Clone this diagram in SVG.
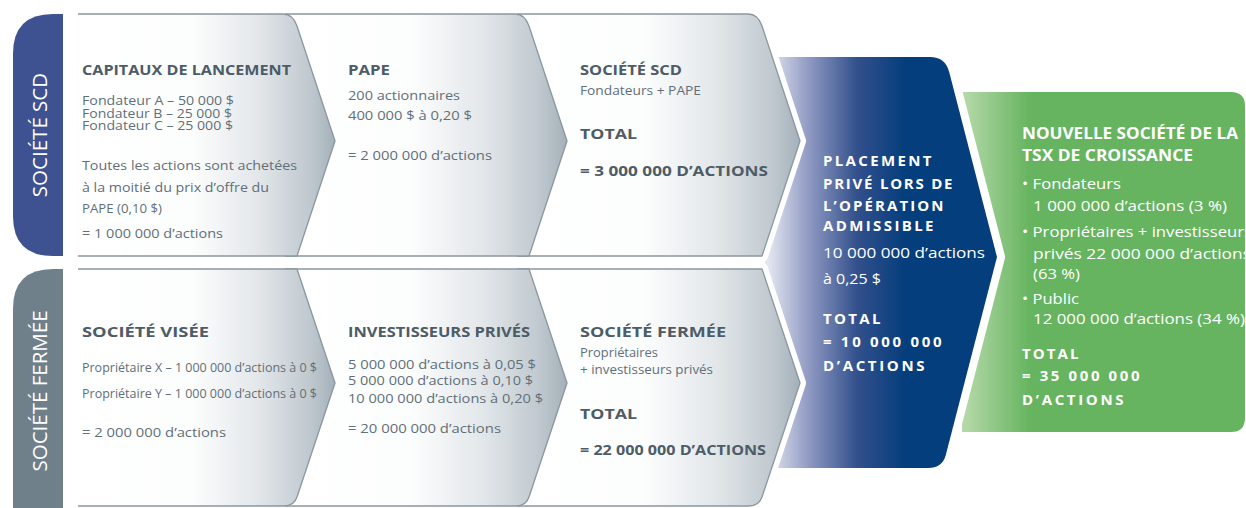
<svg xmlns="http://www.w3.org/2000/svg" width="1246" height="508" viewBox="0 0 1246 508">
<defs>
<linearGradient id="gGray" x1="0" y1="0" x2="1" y2="0">
<stop offset="0" stop-color="#ffffff"/>
<stop offset="0.45" stop-color="#fcfdfd"/>
<stop offset="0.7" stop-color="#e3e7ea"/>
<stop offset="0.9" stop-color="#c0c9cf"/>
<stop offset="1" stop-color="#a4b0b9"/>
</linearGradient>
<linearGradient id="gBlue" gradientUnits="userSpaceOnUse" x1="768" y1="0" x2="905" y2="0">
<stop offset="0" stop-color="#e4e7f1"/>
<stop offset="0.3" stop-color="#8f99c2"/>
<stop offset="0.65" stop-color="#32508c"/>
<stop offset="1" stop-color="#053e7c"/>
</linearGradient>
<linearGradient id="gGreen" gradientUnits="userSpaceOnUse" x1="960" y1="0" x2="1030" y2="0">
<stop offset="0" stop-color="#b9dbad"/>
<stop offset="1" stop-color="#66b45f"/>
</linearGradient>
<style>
.fill{fill:url(#gGray);stroke:none}
.edge{fill:none;stroke:#8a97a0;stroke-width:1.3;stroke-linejoin:round}
.halo{fill:none;stroke:#ffffff;stroke-width:12;stroke-linejoin:round}
.h{font-family:"Open Sans","Liberation Sans",sans-serif;font-weight:700;font-size:15px;fill:#4d5c67}
.b{font-family:"Open Sans","Liberation Sans",sans-serif;font-size:13.5px;fill:#616f79}
.bs{font-family:"Open Sans","Liberation Sans",sans-serif;font-size:12.5px;fill:#616f79}
.bt{font-family:"Open Sans","Liberation Sans",sans-serif;font-size:12px;fill:#616f79}
.tab{font-family:"Open Sans","Liberation Sans",sans-serif;font-size:20.5px;fill:#ffffff}
.wh{font-family:"Open Sans","Liberation Sans",sans-serif;font-weight:700;font-size:15px;fill:#ffffff;letter-spacing:1.5px}
.wb{font-family:"Open Sans","Liberation Sans",sans-serif;font-size:15px;fill:#ffffff}
.gh{font-family:"Open Sans","Liberation Sans",sans-serif;font-weight:700;font-size:15.5px;fill:#ffffff}
</style>
</defs>
<rect width="1246" height="508" fill="#ffffff"/>

<g id="node-tsx">
<path d="M962 92 H1231 Q1245 92 1245 106 V418 Q1245 432 1231 432 H962 Z" fill="url(#gGreen)"/>
</g>

<g id="node-placement">
<path d="M765 57 H930 Q945.3 57 949.2 72 L997 257 L945.8 455 Q942.4 468 928 468 H765 Z" fill="none" stroke="#ffffff" stroke-width="16" stroke-linejoin="round"/>
<path d="M765 57 H930 Q945.3 57 949.2 72 L997 257 L945.8 455 Q942.4 468 928 468 H765 Z" fill="url(#gBlue)"/>
</g>

<g id="node-tsx-text">
<text class="gh" x="1022" y="139" textLength="216" lengthAdjust="spacingAndGlyphs">NOUVELLE SOCIÉTÉ DE LA</text>
<text class="gh" x="1022" y="161" textLength="171" lengthAdjust="spacingAndGlyphs">TSX DE CROISSANCE</text>
<text class="wb" x="1022" y="189" textLength="99" lengthAdjust="spacingAndGlyphs" font-size="15.5">• Fondateurs</text>
<text class="wb" x="1033" y="211" textLength="194" lengthAdjust="spacingAndGlyphs" font-size="15.5">1 000 000 d’actions (3 %)</text>
<text class="wb" x="1022" y="237" textLength="230" lengthAdjust="spacingAndGlyphs" font-size="15.5">• Propriétaires + investisseurs</text>
<text class="wb" x="1033" y="259" textLength="218" lengthAdjust="spacingAndGlyphs" font-size="15.5">privés 22 000 000 d’actions</text>
<text class="wb" x="1033" y="279" textLength="47" lengthAdjust="spacingAndGlyphs" font-size="15.5">(63 %)</text>
<text class="wb" x="1022" y="304" textLength="57" lengthAdjust="spacingAndGlyphs" font-size="15.5">• Public</text>
<text class="wb" x="1033" y="324" textLength="212" lengthAdjust="spacingAndGlyphs" font-size="15.5">12 000 000 d’actions (34 %)</text>
<text class="wh" x="1022" y="359" textLength="58" lengthAdjust="spacing">TOTAL</text>
<text class="wh" x="1022" y="381" textLength="119" lengthAdjust="spacing">= 35 000 000</text>
<text class="wh" x="1022" y="405" textLength="103" lengthAdjust="spacing">D’ACTIONS</text>
</g>

<g id="node-placement-text">
<text class="wh" x="823" y="166" textLength="110" lengthAdjust="spacing">PLACEMENT</text>
<text class="wh" x="823" y="189" textLength="131" lengthAdjust="spacing">PRIVÉ LORS DE</text>
<text class="wh" x="823" y="211" textLength="122" lengthAdjust="spacing">L’OPÉRATION</text>
<text class="wh" x="823" y="231" textLength="112" lengthAdjust="spacing">ADMISSIBLE</text>
<text class="wb" x="823" y="258" textLength="162" lengthAdjust="spacingAndGlyphs">10 000 000 d’actions</text>
<text class="wb" x="823" y="284" textLength="58" lengthAdjust="spacingAndGlyphs">à 0,25 $</text>
<text class="wh" x="823" y="324" textLength="59" lengthAdjust="spacing">TOTAL</text>
<text class="wh" x="823" y="347" textLength="120" lengthAdjust="spacing">= 10 000 000</text>
<text class="wh" x="823" y="371" textLength="103" lengthAdjust="spacing">D’ACTIONS</text>
</g>

<g id="node-scd">
<path class="halo" d="M517 14 H748 Q758 14 762 26 L800 141 L762 256 H517 Z"/>
<path class="fill" d="M517 14 H748 Q758 14 762 26 L800 141 L762 256 H517 Z"/>
<path class="edge" d="M517 14 H748 Q758 14 762 26 L800 141 L762 256 H517"/>
<text class="h" x="580" y="75" textLength="102" lengthAdjust="spacingAndGlyphs">SOCIÉTÉ SCD</text>
<text class="bs" x="580" y="95" textLength="121" lengthAdjust="spacingAndGlyphs">Fondateurs + PAPE</text>
<text class="h" x="580" y="139" textLength="57" lengthAdjust="spacingAndGlyphs">TOTAL</text>
<text class="h" x="580" y="176" textLength="188" lengthAdjust="spacingAndGlyphs">= 3 000 000 D’ACTIONS</text>
</g>

<g id="node-fermee">
<path class="halo" d="M517 269 H762 L800 383 L762 497 Q759 506 749 506 H517 Z"/>
<path class="fill" d="M517 269 H762 L800 383 L762 497 Q759 506 749 506 H517 Z"/>
<path class="edge" d="M517 269 H762 L800 383 L762 497 Q759 506 749 506 H517"/>
<text class="h" x="580" y="337" textLength="146" lengthAdjust="spacingAndGlyphs">SOCIÉTÉ FERMÉE</text>
<text class="bs" x="580" y="357" textLength="78" lengthAdjust="spacingAndGlyphs">Propriétaires</text>
<text class="bs" x="580" y="374" textLength="133" lengthAdjust="spacingAndGlyphs">+ investisseurs privés</text>
<text class="h" x="580" y="419" textLength="57" lengthAdjust="spacingAndGlyphs">TOTAL</text>
<text class="h" x="580" y="455" textLength="186" lengthAdjust="spacingAndGlyphs">= 22 000 000 D’ACTIONS</text>
</g>

<g id="node-pape">
<path class="fill" d="M285 14 H515 Q525 14 529 26 L567 141 L529 256 H285 Z"/>
<path class="edge" d="M285 14 H515 Q525 14 529 26 L567 141 L529 256 H285"/>
<text class="h" x="348" y="75" textLength="42" lengthAdjust="spacingAndGlyphs">PAPE</text>
<text class="b" x="348" y="100" textLength="112" lengthAdjust="spacingAndGlyphs">200 actionnaires</text>
<text class="b" x="348" y="120" textLength="124" lengthAdjust="spacingAndGlyphs">400 000 $ à 0,20 $</text>
<text class="b" x="348" y="160" textLength="144" lengthAdjust="spacingAndGlyphs">= 2 000 000 d’actions</text>
</g>

<g id="node-investisseurs">
<path class="fill" d="M285 269 H529 L567 383 L529 497 Q526 506 516 506 H285 Z"/>
<path class="edge" d="M285 269 H529 L567 383 L529 497 Q526 506 516 506 H285"/>
<text class="h" x="348" y="337" textLength="182" lengthAdjust="spacingAndGlyphs">INVESTISSEURS PRIVÉS</text>
<text class="b" x="348" y="369" textLength="188" lengthAdjust="spacingAndGlyphs">5 000 000 d’actions à 0,05 $</text>
<text class="b" x="348" y="385" textLength="185" lengthAdjust="spacingAndGlyphs">5 000 000 d’actions à 0,10 $</text>
<text class="b" x="348" y="403" textLength="195" lengthAdjust="spacingAndGlyphs">10 000 000 d’actions à 0,20 $</text>
<text class="b" x="348" y="433" textLength="153" lengthAdjust="spacingAndGlyphs">= 20 000 000 d’actions</text>
</g>

<g id="node-capitaux">
<path class="fill" d="M78 14 H283 Q293 14 297 26 L335 141 L297 256 H78 Z"/>
<path class="edge" d="M78 14 H283 Q293 14 297 26 L335 141 L297 256 H78"/>
<text class="h" x="82" y="75" textLength="209" lengthAdjust="spacingAndGlyphs">CAPITAUX DE LANCEMENT</text>
<text class="bt" x="82" y="105" textLength="152" lengthAdjust="spacingAndGlyphs">Fondateur A – 50 000 $</text>
<text class="bt" x="82" y="117.5" textLength="150" lengthAdjust="spacingAndGlyphs">Fondateur B – 25 000 $</text>
<text class="bt" x="82" y="130" textLength="151" lengthAdjust="spacingAndGlyphs">Fondateur C – 25 000 $</text>
<text class="b" x="82" y="170" textLength="215" lengthAdjust="spacingAndGlyphs">Toutes les actions sont achetées</text>
<text class="b" x="82" y="192" textLength="187" lengthAdjust="spacingAndGlyphs">à la moitié du prix d’offre du</text>
<text class="b" x="82" y="213" textLength="80" lengthAdjust="spacingAndGlyphs">PAPE (0,10 $)</text>
<text class="bs" x="82" y="238" textLength="141" lengthAdjust="spacingAndGlyphs">= 1 000 000 d’actions</text>
</g>

<g id="node-visee">
<path class="fill" d="M78 269 H297 L335 383 L297 497 Q294 506 284 506 H78 Z"/>
<path class="edge" d="M78 269 H297 L335 383 L297 497 Q294 506 284 506 H78"/>
<text class="h" x="82" y="337" textLength="127" lengthAdjust="spacingAndGlyphs">SOCIÉTÉ VISÉE</text>
<text class="bs" x="82" y="372" textLength="235" lengthAdjust="spacingAndGlyphs">Propriétaire X – 1 000 000 d’actions à 0 $</text>
<text class="bs" x="82" y="398" textLength="235" lengthAdjust="spacingAndGlyphs">Propriétaire Y – 1 000 000 d’actions à 0 $</text>
<text class="b" x="82" y="437" textLength="144" lengthAdjust="spacingAndGlyphs">= 2 000 000 d’actions</text>
</g>

<g id="tab-scd">
<path d="M63 14 V256 H53 Q13 256 13 216 V54 Q13 14 53 14 Z" fill="#3e5190"/>
<text class="tab" transform="translate(47,135) rotate(-90)" text-anchor="middle">SOCIÉTÉ SCD</text>
</g>

<g id="tab-fermee">
<path d="M63 269 V548 H53 Q13 548 13 508 V309 Q13 269 53 269 Z" fill="#6f808b"/>
<text class="tab" transform="translate(47,391) rotate(-90)" text-anchor="middle">SOCIÉTÉ FERMÉE</text>
</g>

<g id="connectors"/>
</svg>
